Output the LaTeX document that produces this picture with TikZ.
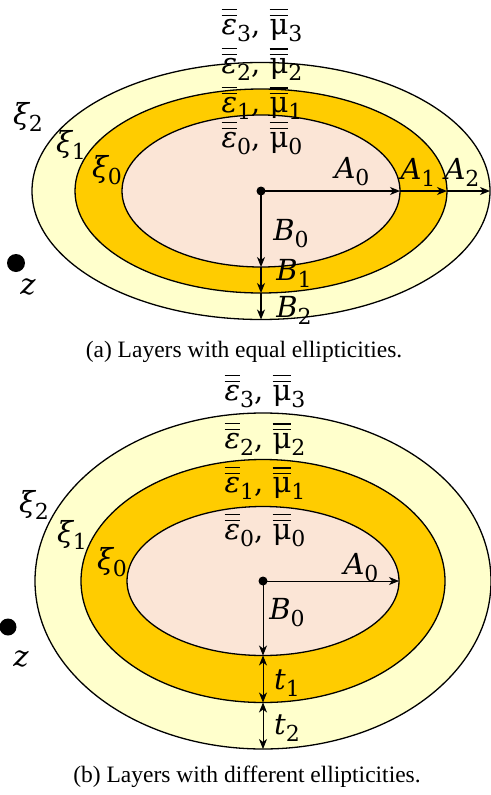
\documentclass[tikz,border=0pt]{standalone}
\usepackage{fix-cm}
\usepackage{amsmath, amssymb}
\usepackage{fontspec}
\newfontfamily\capfont{Liberation Serif}
\newfontfamily\lblfont{DejaVu Serif}
\usepackage{tikz}
\usetikzlibrary{shapes,arrows.meta,positioning}
\definecolor{OuterYellow}{RGB}{255, 255, 204}
\definecolor{MidGold}{RGB}{255, 204, 0}
\definecolor{InnerPeach}{RGB}{251, 229, 214}
\newcommand{\sub}[1]{\raisebox{-0.24em}{\fontsize{22}{24}\selectfont #1}}
\newcommand{\sym}[2]{{\itshape #1}\sub{#2}}
\newcommand{\dbar}[1]{$\overline{\overline{\mbox{#1}}}$}
\newcommand{\layerlbl}[1]{\dbar{\itshape ε}\sub{#1}, \dbar{μ}\sub{#1}}

\begin{document}
\begin{tikzpicture}[x=1pt, y=-1pt,
    layer/.style={ellipse, draw, line width=1.3pt, inner sep=0pt, outer sep=0pt},
    lbl/.style={font=\lblfont\fontsize{29}{32}\selectfont, inner sep=0pt},
    captext/.style={font=\capfont\fontsize{23.5}{28}\selectfont, inner sep=0pt},
    arr/.style={-{Stealth[length=10pt, width=8pt, inset=3pt]}, line width=1.2pt},
    thinarr/.style={-{Stealth[length=10pt, width=8pt, inset=3pt]}, line width=0.8pt},
    twoarr/.style={{Stealth[length=10pt, width=8pt, inset=3pt]}-{Stealth[length=10pt, width=8pt, inset=3pt]}, line width=0.9pt},
    blob/.style={circle, fill, inner sep=0pt, minimum size=#1}]
    \useasboundingbox (0,0) rectangle (490,795);

    % (a) Layers
    \node[layer, fill=OuterYellow, minimum width=458pt, minimum height=257pt] (outA) at (261,191) {};
    \node[layer, fill=MidGold, minimum width=372pt, minimum height=204pt] (midA) at (261,191) {};
    \node[layer, fill=InnerPeach, minimum width=278pt, minimum height=152pt] (inA) at (261,191) {};
    \node[blob=9pt] (cA) at (261,191) {};

    % (a) Semi-axes
    \draw[arr] (cA.center) -- (inA.east);
    \draw[arr] (inA.east) -- (midA.east);
    \draw[arr] (midA.east) -- (outA.east);
    \draw[arr] (cA.center) -- (inA.south);
    \draw[arr] (inA.south) -- (midA.south);
    \draw[arr] (midA.south) -- (outA.south);

    % (a) Labels
    \node[lbl] (epsA3) at (262,25) {\layerlbl{3}};
    \node[lbl] (epsA2) at (262,64) {\layerlbl{2}};
    \node[lbl] (epsA1) at (262,103) {\layerlbl{1}};
    \node[lbl] (epsA0) at (262,138) {\layerlbl{0}};
    \node[lbl] (xiA2) at (28,117) {\sym{ξ}{2}};
    \node[lbl] (xiA1) at (71,145) {\sym{ξ}{1}};
    \node[lbl] (xiA0) at (107,170) {\sym{ξ}{0}};
    \node[lbl] (aA0) at (352,172) {\sym{A}{0}};
    \node[lbl] (aA1) at (418,172) {\sym{A}{1}};
    \node[lbl] (aA2) at (462,172) {\sym{A}{2}};
    \node[lbl] (bA0) at (291,234) {\sym{B}{0}};
    \node[lbl] (bA1) at (294,273) {\sym{B}{1}};
    \node[lbl] (bA2) at (294,310) {\sym{B}{2}};
    \node[blob=18pt] (zA) at (16,263) {};
    \node[lbl] (zlA) at (28,290) {\sym{z}{}};
    \node[captext] (capA) at (244,352) {(a) Layers with equal ellipticities.};

    % (b) Layers
    \node[layer, fill=OuterYellow, minimum width=456pt, minimum height=336pt] (outB) at (263,581) {};
    \node[layer, fill=MidGold, minimum width=364pt, minimum height=243pt] (midB) at (263,581) {};
    \node[layer, fill=InnerPeach, minimum width=272pt, minimum height=149pt] (inB) at (263,581) {};
    \node[blob=9pt] (cB) at (263,581) {};

    % (b) Semi-axes and thicknesses
    \draw[thinarr] (cB.center) -- (inB.east);
    \draw[thinarr] (cB.center) -- (inB.south);
    \draw[twoarr] (inB.south) -- (midB.south);
    \draw[twoarr] (midB.south) -- (outB.south);

    % (b) Labels
    \node[lbl] (epsB3) at (265,391) {\layerlbl{3}};
    \node[lbl] (epsB2) at (265,439) {\layerlbl{2}};
    \node[lbl] (epsB1) at (265,483) {\layerlbl{1}};
    \node[lbl] (epsB0) at (265,530) {\layerlbl{0}};
    \node[lbl] (xiB2) at (34,505) {\sym{ξ}{2}};
    \node[lbl] (xiB1) at (72,535) {\sym{ξ}{1}};
    \node[lbl] (xiB0) at (112,562) {\sym{ξ}{0}};
    \node[lbl] (aB0) at (361,568) {\sym{A}{0}};
    \node[lbl] (bB0) at (287,613) {\sym{B}{0}};
    \node[lbl] (tB1) at (287,683) {\sym{t}{1}};
    \node[lbl] (tB2) at (287,728) {\sym{t}{2}};
    \node[blob=17pt] (zB) at (8,627) {};
    \node[lbl] (zlB) at (21,662) {\sym{z}{}};
    \node[captext] (capB) at (247,777) {(b) Layers with different ellipticities.};
\end{tikzpicture}
\end{document}
